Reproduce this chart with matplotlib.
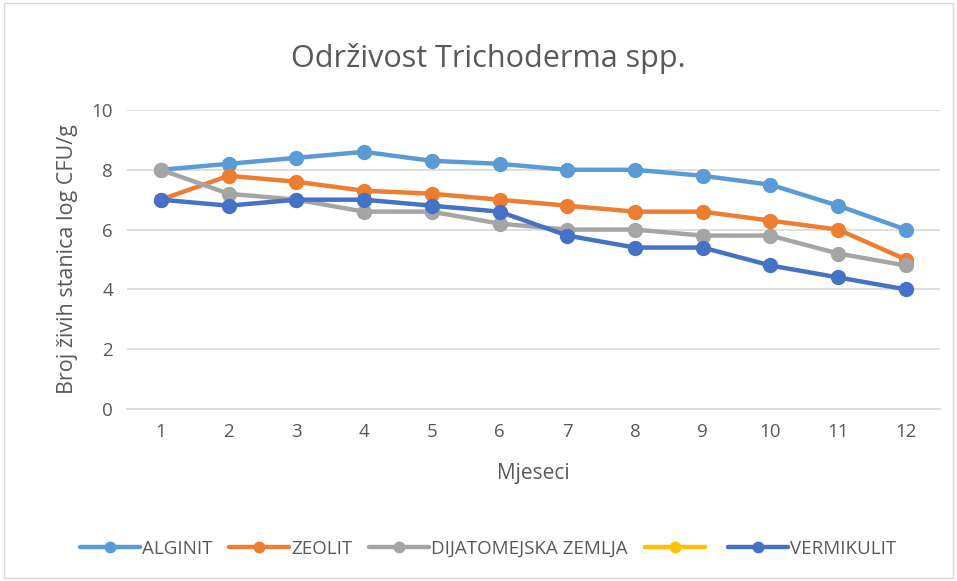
import matplotlib.pyplot as plt
from matplotlib.patches import Rectangle

plt.rcParams['font.family'] = ['Open Sans', 'DejaVu Sans']

months = [1, 2, 3, 4, 5, 6, 7, 8, 9, 10, 11, 12]
alginit = [8.0, 8.2, 8.4, 8.6, 8.3, 8.2, 8.0, 8.0, 7.8, 7.5, 6.8, 6.0]
zeolit = [7.0, 7.8, 7.6, 7.3, 7.2, 7.0, 6.8, 6.6, 6.6, 6.3, 6.0, 5.0]
dijatomejska = [8.0, 7.2, 7.0, 6.6, 6.6, 6.2, 6.0, 6.0, 5.8, 5.8, 5.2, 4.8]
prazno = []  # yellow series has no data, only a legend entry
vermikulit = [7.0, 6.8, 7.0, 7.0, 6.8, 6.6, 5.8, 5.4, 5.4, 4.8, 4.4, 4.0]

series = [
    ("ALGINIT", alginit, '#5B9BD5'),
    ("ZEOLIT", zeolit, '#ED7D31'),
    ("DIJATOMEJSKA ZEMLJA", dijatomejska, '#A5A5A5'),
    (" ", prazno, '#FFC000'),
    ("VERMIKULIT", vermikulit, '#4472C4'),
]

txt = '#595959'

fig = plt.figure(figsize=(9.57, 5.81), dpi=100)
ax = fig.add_axes([0.1327, 0.296, 0.8493, 0.5147])

for name, vals, col in series:
    x = months[:len(vals)]
    ax.plot(x, vals, color=col, lw=3.2, marker='o', markersize=10,
            label=name, solid_capstyle='round')

ax.set_xlim(0.5, 12.5)
ax.set_ylim(0, 10)
ax.set_xticks(months)
ax.set_yticks([0, 2, 4, 6, 8, 10])
ax.grid(axis='y', color='#D9D9D9', lw=1.2)
ax.set_axisbelow(True)
for s in ['top', 'right', 'left']:
    ax.spines[s].set_visible(False)
ax.spines['bottom'].set_color('#D9D9D9')
ax.spines['bottom'].set_linewidth(1.2)
ax.tick_params(length=0, labelsize=13.5, colors=txt, pad=10)

ax.set_xlabel('Mjeseci', fontsize=15, color=txt, labelpad=16)
ax.set_ylabel('Broj živih stanica log CFU/g', fontsize=15.5, color=txt, labelpad=10)
fig.text(0.51, 0.9, 'Održivost Trichoderma spp.', ha='center', va='center',
         fontsize=22, color=txt)

fig.legend(loc='center', bbox_to_anchor=(0.51, 0.055), ncol=5, frameon=False,
           fontsize=13.5, labelcolor=txt, handlelength=3.2, columnspacing=0.9,
           handletextpad=0.1, markerscale=0.75)

fig.patches.append(Rectangle((0.004, 0.006), 0.992, 0.988, transform=fig.transFigure,
                             fill=False, edgecolor='#D9D9D9', lw=1))

plt.savefig('out.png', dpi=100)
